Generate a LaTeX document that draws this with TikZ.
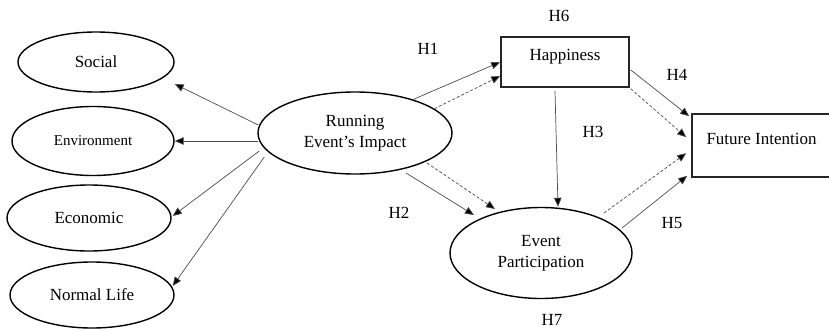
\documentclass[tikz,border=0pt]{standalone}
\usepackage{fontspec}
\setmainfont{Liberation Serif}
\usetikzlibrary{shapes.geometric,arrows.meta}
\begin{document}
\begin{tikzpicture}[x=1pt,y=-1pt,
  every node/.style={font=\fontsize{17}{21}\selectfont},
  ell/.style={draw=black,line width=1.4pt,ellipse,inner sep=0pt,align=center},
  box/.style={draw=black!85,line width=1.6pt,rectangle,inner sep=0pt},
  arr/.style={draw=black!70,line width=0.7pt,-{Triangle[length=9pt,width=7.5pt,fill=black]}},
  darr/.style={arr,dash pattern=on 3pt off 2pt},
  hlab/.style={inner sep=0pt}]
\useasboundingbox (0,0) rectangle (829,329);
% left ellipses
\node[ell,minimum width=156pt,minimum height=60pt] (soc) at (96,62) {Social};
\node[ell,minimum width=162pt,minimum height=69pt,font=\fontsize{15}{18}\selectfont] (env) at (93,141) {Environment};
\node[ell,minimum width=164pt,minimum height=66pt] (eco) at (89,218) {Economic};
\node[ell,minimum width=164pt,minimum height=66pt] (nl) at (92,295) {Normal Life};
% central
\node[ell,minimum width=194pt,minimum height=82pt] (run) at (355,133) {Running\\Event’s Impact};
\node[ell,minimum width=182pt,minimum height=91pt] (ep) at (541,253) {Event\\Participation};
\node[box,minimum width=128pt,minimum height=50pt,text height=12pt,text depth=16pt] (hap) at (565,62) {Happiness};
\node[box,minimum width=139pt,minimum height=63pt,text height=12pt,text depth=15pt] (fi) at (761.5,145.5) {Future Intention};
% labels
\node[hlab] (h6) at (559,16) {H6};
\node[hlab] (h1) at (428,49) {H1};
\node[hlab] (h4) at (677,75) {H4};
\node[hlab] (h3) at (593,132) {H3};
\node[hlab] (h2) at (399,213) {H2};
\node[hlab] (h5) at (672,223) {H5};
\node[hlab] (h7) at (552,319.5) {H7};
% left connectors
\draw[arr] ([shift={(1pt,8pt)}]run.west) -- ([yshift=-22pt]soc.east);
\draw[arr] ([shift={(1pt,-8pt)}]run.west) -- (env.east);
\draw[arr] ([shift={(2pt,-18pt)}]run.west) -- ([shift={(1pt,2pt)}]eco.east);
\draw[arr] ([shift={(7pt,-24pt)}]run.west) -- ([shift={(-2pt,9pt)}]nl.east);
% right connectors
\draw[arr] (run.30) -- (hap.west);
\draw[darr] (run.17) -- ([yshift=-14pt]hap.west);
\draw[arr] ([shift={(-10pt,-3pt)}]hap.south) -- ([xshift=17pt]ep.north);
\draw[arr] ([shift={(51pt,-40pt)}]run.center) -- ([shift={(-67pt,38pt)}]ep.center);
\draw[darr] ([shift={(72pt,-30pt)}]run.center) -- ([shift={(-46pt,44pt)}]ep.center);
\draw[arr] ([shift={(1pt,-8pt)}]hap.east) -- ([shift={(-2pt,-3pt)}]fi.north west);
\draw[darr] ([shift={(1pt,-1pt)}]hap.south east) -- ([shift={(-5pt,-24pt)}]fi.north west);
\draw[darr] ([shift={(63pt,40pt)}]ep.center) -- ([shift={(-5pt,-40pt)}]fi.north west);
\draw[arr] ([shift={(81pt,25pt)}]ep.center) -- ([shift={(-4pt,2pt)}]fi.south west);
\end{tikzpicture}
\end{document}
